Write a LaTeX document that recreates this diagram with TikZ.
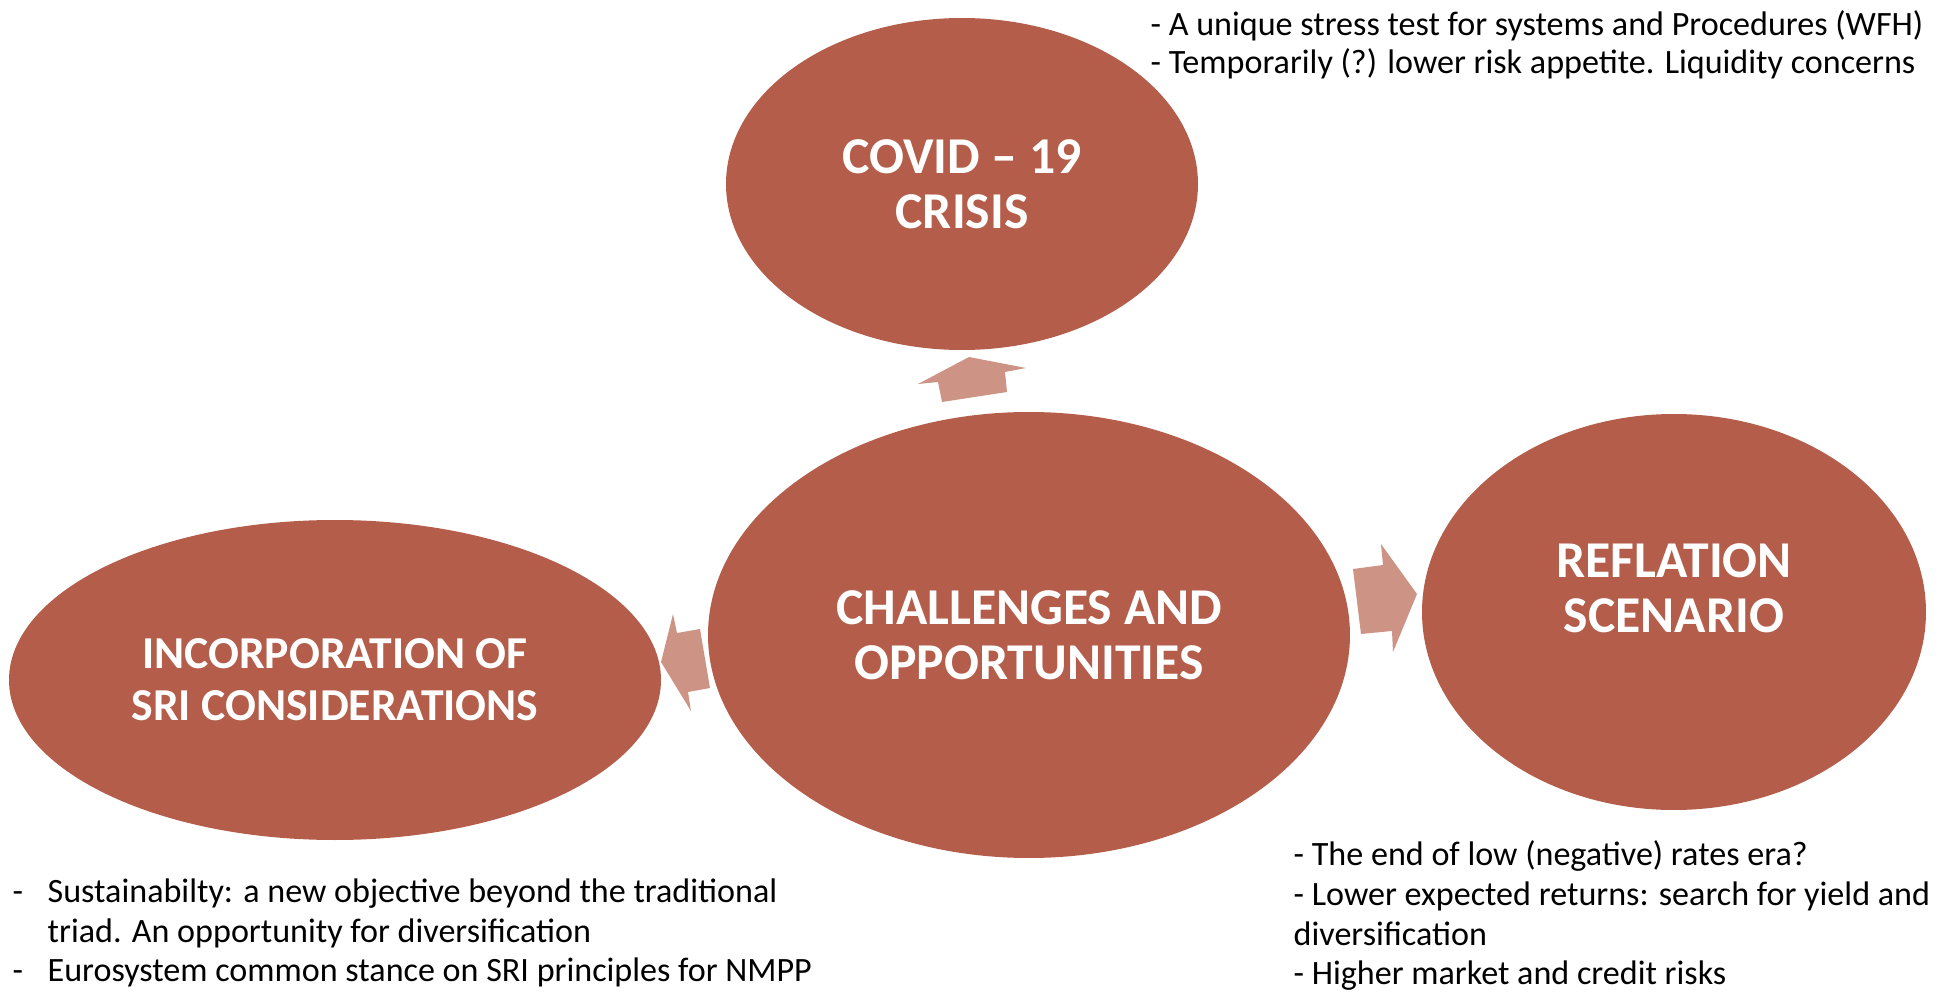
\documentclass[tikz,border=0pt]{standalone}
\usepackage{fontspec}
\setmainfont{Carlito}
\usetikzlibrary{shapes.geometric}
\usetikzlibrary{positioning}
\definecolor{rust}{RGB}{179,93,74}
\definecolor{pale}{RGB}{205,147,133}
\tikzset{
  bubble/.style={ellipse, fill=rust, inner sep=0pt},
  bubbletext/.style={text=white, align=center, inner sep=0pt, font=\fontsize{14.7}{15.6}\selectfont\bfseries},
  notes/.style={align=left, inner sep=0pt, font=\fontsize{9.7}{11.3}\selectfont},
  blockarrow/.style={fill=pale}
}

\begin{document}
\begin{tikzpicture}[x=0.1mm,y=-0.1mm]
\useasboundingbox (0,0) rectangle (1951,992);
% the four bubbles
\node[bubble, minimum width=47.2mm, minimum height=33.2mm] (covid) at (962,184) {};
\node[bubble, minimum width=64.2mm, minimum height=44.6mm] (core) at (1029,635) {};
\node[bubble, minimum width=50.4mm, minimum height=39.6mm] (reflation) at (1674,612) {};
\node[bubble, minimum width=65.2mm, minimum height=32mm] (sri) at (335,680) {};
\node[bubbletext] (covidtxt) at (covid.center) {COVID – 19\\CRISIS};
\node[bubbletext] (coretxt) at (core.center) {CHALLENGES AND\\OPPORTUNITIES};
\node[bubbletext] (reflationtxt) at ([yshift=2.4mm]reflation.center) {REFLATION\\SCENARIO};
\node[bubbletext, font=\fontsize{13}{14.8}\selectfont\bfseries] (sritxt) at (sri.center) {INCORPORATION OF\\SRI CONSIDERATIONS};
% block arrows out of the middle
\fill[blockarrow] (969,357)--(1026,368)--(1005,372)--(1007,392)--(942,402)--(938,382)--(918,384)--cycle;
\fill[blockarrow] (1417,594)--(1393,652)--(1392,631)--(1361,634)--(1353,569)--(1383,565)--(1381,544)--cycle;
\fill[blockarrow] (661,662)--(673,614)--(677,633)--(700,629)--(710,688)--(688,692)--(691,711)--cycle;
% notes
\node[notes, anchor=north west, font=\fontsize{9.7}{10.9}\selectfont] (covidnotes) at (1150,10) {- A unique stress test for systems and Procedures (WFH)\\- Temporarily (?) lower risk appetite. Liquidity concerns};
\node[notes, anchor=north west] (reflationnotes) at (1293,840) {- The end of low (negative) rates era?\\- Lower expected returns: search for yield and\\diversification\\- Higher market and credit risks};
\node[notes, anchor=north west] (srinotes) at (12,878) {\makebox[3.5mm][l]{-}Sustainabilty: a new objective beyond the traditional\\\hspace*{3.5mm}triad. An opportunity for diversification\\\makebox[3.5mm][l]{-}Eurosystem common stance on SRI principles for NMPP};
\end{tikzpicture}
\end{document}
